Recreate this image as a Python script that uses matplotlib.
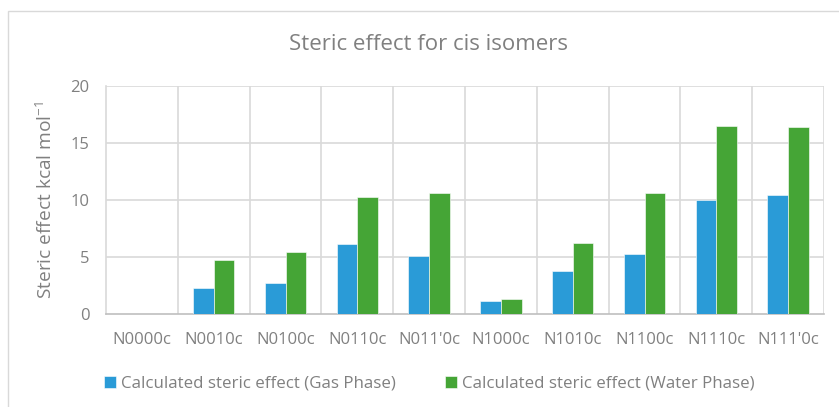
import matplotlib
matplotlib.use("Agg")
import matplotlib.pyplot as plt
import numpy as np
from matplotlib.patches import Rectangle

categories = ["N0000c", "N0010c", "N0100c", "N0110c", "N011'0c",
              "N1000c", "N1010c", "N1100c", "N1110c", "N111'0c"]
gas_phase = [0.0, 2.3, 2.75, 6.15, 5.1, 1.15, 3.75, 5.3, 10.0, 10.45]
water_phase = [0.0, 4.7, 5.4, 10.25, 10.65, 1.35, 6.2, 10.65, 16.45, 16.4]
y_ticks = [0, 5, 10, 15, 20]

series_names = ["Calculated steric effect (Gas Phase)",
                "Calculated steric effect (Water Phase)"]

BLUE = "#2A9BD7"
GREEN = "#45A536"
TEXT = "#808080"
GRID = "#D9D9D9"

plt.rcParams["font.family"] = ["Open Sans", "DejaVu Sans"]

fig = plt.figure(figsize=(8.39, 4.07), dpi=100)
fig.patches.append(Rectangle((8 / 839, -0.1), 1.2, 1 - 11 / 407 + 0.1,
                             transform=fig.transFigure, fill=False,
                             edgecolor=GRID, linewidth=1.0))

ax = fig.add_axes([106 / 839, 1 - 314 / 407, (824 - 106) / 839, (314 - 86) / 407])

x = np.arange(len(categories))
w = 0.288
ax.bar(x - w / 2, gas_phase, width=w, color=BLUE, edgecolor="white",
       linewidth=0.4, label=series_names[0], zorder=3)
ax.bar(x + w / 2, water_phase, width=w, color=GREEN, edgecolor="white",
       linewidth=0.4, label=series_names[1], zorder=3)

ax.set_xlim(-0.5, len(categories) - 0.5)
ax.set_ylim(0, 20)
ax.set_yticks(y_ticks)
ax.set_xticks(x)
ax.set_xticklabels(categories)

# horizontal value gridlines and vertical category separators
for yv in y_ticks[1:]:
    ax.axhline(yv, color=GRID, linewidth=1.2, zorder=1)
for xv in np.arange(0.5, len(categories) - 0.5, 1.0):
    ax.axvline(xv, color=GRID, linewidth=1.2, zorder=1)
ax.axvline(len(categories) - 0.5, color=GRID, linewidth=1.2, zorder=1)

for side in ["top", "right"]:
    ax.spines[side].set_visible(False)
ax.spines["left"].set_color(GRID)
ax.spines["left"].set_linewidth(1.2)
ax.spines["bottom"].set_color("#BFBFBF")
ax.spines["bottom"].set_linewidth(1.2)
ax.tick_params(axis="both", length=0, colors=TEXT, labelsize=12)
ax.tick_params(axis="x", pad=13)
ax.tick_params(axis="y", pad=12)

ax.set_ylabel("Steric effect kcal mol$\\mathregular{^{-1}}$", color=TEXT, fontsize=13.8)
ax.yaxis.set_label_coords(-0.07, 0.5)

fig.text(0.511, 1 - 45 / 407, "Steric effect for cis isomers",
         ha="center", va="center", color=TEXT, fontsize=16)

fig.legend(loc="center left", bbox_to_anchor=(89 / 839, 1 - 384 / 407),
           ncol=2, frameon=False, fontsize=12.2, labelcolor=TEXT,
           handlelength=0.7, handleheight=0.7, handletextpad=0.3,
           columnspacing=2.9)

fig.savefig("out.png", dpi=100, facecolor="white")
